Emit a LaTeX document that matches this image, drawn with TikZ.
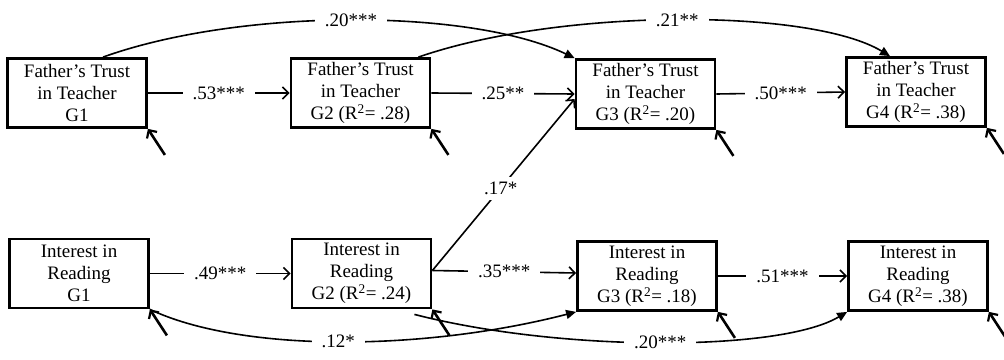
\documentclass[tikz,border=0pt]{standalone}
\usepackage{fontspec}
\setmainfont{Liberation Serif}
\usetikzlibrary{arrows.meta,calc}
\begin{document}
\begin{tikzpicture}[x=1pt,y=-1pt,
  box/.style={draw, line width=2.8pt, minimum width=139pt, minimum height=69pt, align=center, inner sep=0pt, font=\fontsize{19}{22}\selectfont},
  hpath/.style={line width=1.6pt, -{Straight Barb[length=6pt,width=12pt,line width=1.6pt]}},
  lbl/.style={fill=white, inner xsep=10pt, inner ysep=3pt, font=\fontsize{19}{22}\selectfont},
  lagarrow/.style={line width=1.6pt, -{Triangle[length=10pt,width=9pt]}},
  resid/.style={line width=2.6pt, -{Straight Barb[length=6pt,width=12pt,line width=2.2pt]}}
]
\useasboundingbox (0,0) rectangle (1004,359);

\node[box] (F1) at (77,93) {Father’s Trust\\in Teacher\\G1};
\node[box] (F2) at (360.5,93) {Father’s Trust\\in Teacher\\G2 (R\textsuperscript{2}= .28)};
\node[box] (F3) at (645.5,94) {Father’s Trust\\in Teacher\\G3 (R\textsuperscript{2}= .20)};
\node[box] (F4) at (916,92) {Father’s Trust\\in Teacher\\G4 (R\textsuperscript{2}= .38)};

\node[box] (I1) at (79,273.5) {Interest in\\Reading\\G1};
\node[box] (I2) at (361.5,273.5) {Interest in\\Reading\\G2 (R\textsuperscript{2}= .24)};
\node[box] (I3) at (647,276) {Interest in\\Reading\\G3 (R\textsuperscript{2}= .18)};
\node[box] (I4) at (918,276) {Interest in\\Reading\\G4 (R\textsuperscript{2}= .38)};

% autoregressive paths
\draw[hpath] (F1.east) -- node[lbl] {.53***} (F2.west);
\draw[hpath] (F2.east) -- node[lbl] {.25**} (F3.west);
\draw[hpath] (F3.east) -- node[lbl] {.50***} (F4.west);
\draw[hpath] (I1.east) -- node[lbl] {.49***} (I2.west);
\draw[hpath] ($(I2.east)+(0,-3)$) -- node[lbl] {.35***} ($(I3.west)+(0,-3)$);
\draw[hpath] (I3.east) -- node[lbl] {.51***} (I4.west);

% cross-lagged
\draw[hpath] ($(I2.east)+(0,-3)$) -- node[lbl, inner xsep=4pt, inner ysep=5pt, pos=0.48] {.17*} ($(F3.west)+(0,5)$);

% lag-2 paths
\draw[lagarrow] ($(F1.north)+(26,0)$) .. controls (240,8) and (470,8) .. node[lbl, pos=0.5] {.20***} (F3.north west);
\draw[lagarrow] ($(F2.north east)+(-13,0)$) .. controls (560,8) and (810,8) .. node[lbl, pos=0.5] {.21**} ($(F4.north)+(-26,0)$);
\draw[lagarrow] (I1.south east) .. controls (240,352) and (420,352) .. node[lbl, pos=0.5] {.12*} (I3.south west);
\draw[lagarrow] ($(I2.south east)+(-18,5)$) .. controls (560,352) and (780,352) .. node[lbl, pos=0.5] {.20***} (I4.south west);

% residuals
\foreach \n in {F1,F2,F3,F4,I1,I2,I3,I4}{
  \draw[resid] (\n.south east) ++(17,26) -- (\n.south east);
}
\end{tikzpicture}
\end{document}
